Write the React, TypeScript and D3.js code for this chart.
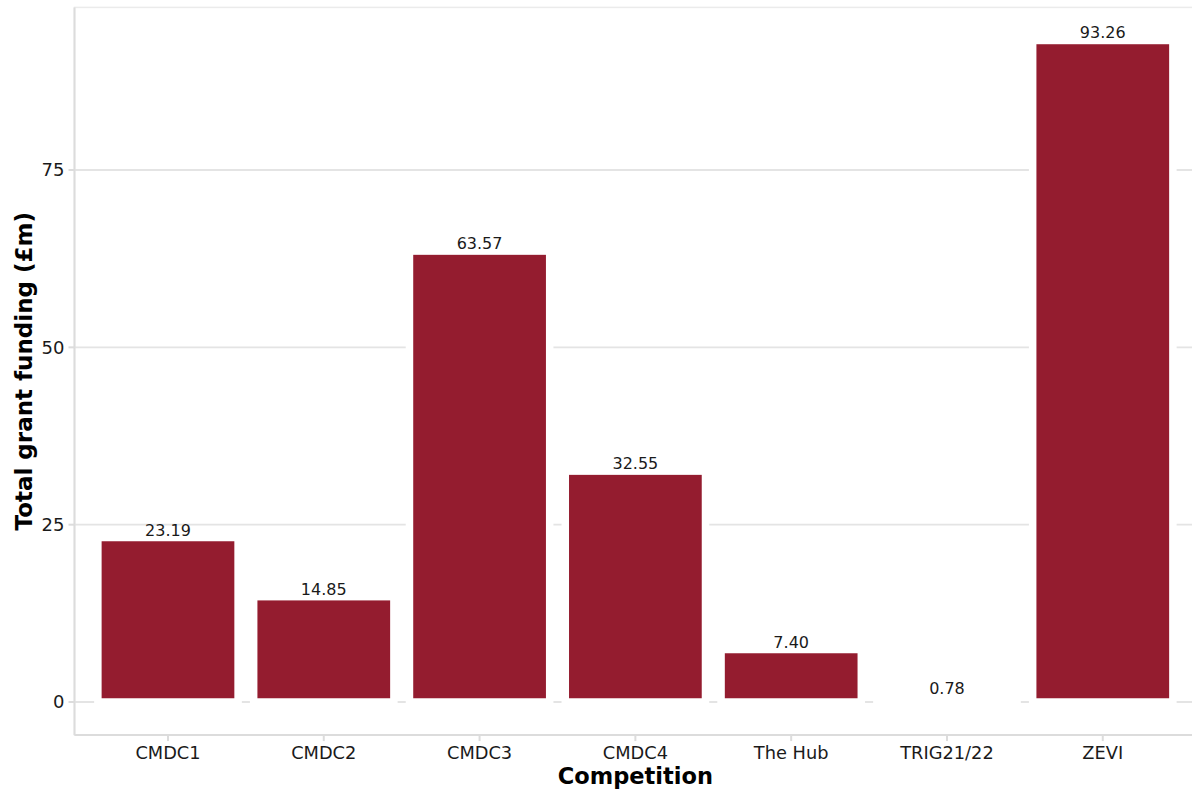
import React from "react";
import * as d3 from "d3";

const categories = ["CMDC1", "CMDC2", "CMDC3", "CMDC4", "The Hub", "TRIG21/22", "ZEVI"];
const values = [23.19, 14.85, 63.57, 32.55, 7.4, 0.78, 93.26];
const yTicks = [0, 25, 50, 75];
const xTitle = "Competition";
const yTitle = "Total grant funding (£m)";

const W = 1192;
const H = 792;
const FONT = "DejaVu Sans, Verdana, sans-serif";
const BAR = "#941c2f";

export default function App() {
  const maxV = d3.max(values) as number;
  const pxPerUnit = (702 - 170) / 75;
  const yLo = -0.05 * maxV;
  const yHi = maxV * 1.05;
  const y = d3
    .scaleLinear()
    .domain([yLo, yHi])
    .range([702 - yLo * pxPerUnit, 702 - yHi * pxPerUnit]);
  const step = 155.8;
  const x0 = 74.5;
  const x = d3
    .scaleBand<string>()
    .domain(categories)
    .range([x0, x0 + 7.2 * step])
    .paddingInner(0.1)
    .paddingOuter(0.15);

  const top = y(yHi);
  const bottom = y(yLo);
  const left = x0;
  const right = x0 + 7.2 * step;
  const bw = x.bandwidth();

  return (
    <svg
      width={W}
      height={H}
      style={{ position: "absolute", left: 0, top: 0, display: "block", background: "#fff" }}
    >
      <rect x={0} y={0} width={W} height={H} fill="#fff" />
      {yTicks.map((t) => (
        <line key={"g" + t} x1={left} x2={right} y1={y(t)} y2={y(t)} stroke="#e4e4e4" strokeWidth={1.8} />
      ))}
      {categories.map((c, i) => {
        const v = values[i];
        const yt = y(v);
        const yb = y(0);
        return (
          <rect
            key={c}
            x={x(c)}
            y={yt}
            width={bw}
            height={yb - yt}
            fill={BAR}
            stroke="#ffffff"
            strokeWidth={7.5}
          />
        );
      })}
      <rect x={left} y={top} width={right - left} height={bottom - top} fill="none" stroke="#ebebeb" strokeWidth={1.5} />
      <line x1={left} x2={left} y1={top} y2={bottom} stroke="#dcdcdc" strokeWidth={2} />
      <line x1={left} x2={right} y1={bottom} y2={bottom} stroke="#dcdcdc" strokeWidth={2} />
      {categories.map((c, i) => (
        <text
          key={"v" + c}
          x={(x(c) as number) + bw / 2}
          y={y(values[i]) - 2}
          textAnchor="middle"
          fontFamily={FONT}
          fontSize={16}
          fill="#1a1a1a"
        >
          {values[i].toFixed(2)}
        </text>
      ))}
      {yTicks.map((t) => (
        <g key={"yt" + t}>
          <line x1={left - 6} x2={left} y1={y(t)} y2={y(t)} stroke="#dcdcdc" strokeWidth={2} />
          <text
            x={left - 10}
            y={y(t)}
            dy="0.36em"
            textAnchor="end"
            fontFamily={FONT}
            fontSize={18}
            fill="#1a1a1a"
          >
            {t}
          </text>
        </g>
      ))}
      {categories.map((c) => {
        const cx = (x(c) as number) + bw / 2;
        return (
          <g key={"xt" + c}>
            <line x1={cx} x2={cx} y1={bottom} y2={bottom + 6} stroke="#dcdcdc" strokeWidth={2} />
            <text x={cx} y={758.5} textAnchor="middle" fontFamily={FONT} fontSize={17.8} fill="#1a1a1a">
              {c}
            </text>
          </g>
        );
      })}
      <text
        x={(left + right) / 2}
        y={784}
        textAnchor="middle"
        fontFamily={FONT}
        fontSize={22.5}
        fontWeight="bold"
        fill="#000"
      >
        {xTitle}
      </text>
      <text
        transform={`translate(32, ${(top + bottom) / 2}) rotate(-90)`}
        textAnchor="middle"
        fontFamily={FONT}
        fontSize={23}
        fontWeight="bold"
        fill="#000"
      >
        {yTitle}
      </text>
    </svg>
  );
}
